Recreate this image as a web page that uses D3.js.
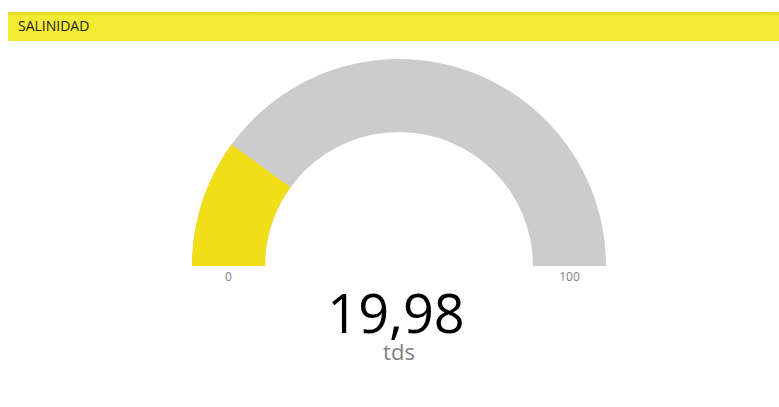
<!DOCTYPE html>
<html>
<head>
<meta charset="utf-8">
<script src="https://cdn.jsdelivr.net/npm/d3@7"></script>
<style>
  html, body { margin: 0; padding: 0; background: #fff; }
  svg { display: block; }
</style>
</head>
<body>
<svg id="chart" width="779" height="407"></svg>
<script>
// Gauge data
const title = "SALINIDAD";
const gaugeMin = [0];
const gaugeMax = [100];
const gaugeValue = [19.98];
const unitLabel = ["tds"];

const width = 779, height = 407;
const svg = d3.select("#chart");

// Header band
const defs = svg.append("defs");
const grad = defs.append("linearGradient").attr("id", "hdr").attr("x1", 0).attr("y1", 0).attr("x2", 0).attr("y2", 1);
grad.append("stop").attr("offset", "0%").attr("stop-color", "#e3d81e");
grad.append("stop").attr("offset", "15%").attr("stop-color", "#f3ea33");
grad.append("stop").attr("offset", "100%").attr("stop-color", "#f3ea33");

svg.append("rect")
  .attr("x", 8).attr("y", 12)
  .attr("width", width - 8).attr("height", 29)
  .attr("fill", "url(#hdr)");

svg.append("text")
  .attr("x", 18).attr("y", 31)
  .attr("font-family", "'Segoe UI', 'Open Sans', sans-serif")
  .attr("font-size", 14)
  .attr("fill", "#222")
  .text(title);

// Gauge geometry
const cx = 399, cy = 266;
const outerR = 207, innerR = 134;

const angle = d3.scaleLinear()
  .domain([gaugeMin[0], gaugeMax[0]])
  .range([-Math.PI / 2, Math.PI / 2]);

const arc = d3.arc().innerRadius(innerR).outerRadius(outerR);

const g = svg.append("g").attr("transform", `translate(${cx},${cy})`);

// Track
g.append("path")
  .attr("d", arc({ startAngle: angle(gaugeMin[0]), endAngle: angle(gaugeMax[0]) }))
  .attr("fill", "#cccccc");

// Value fill
g.append("path")
  .attr("d", arc({ startAngle: angle(gaugeMin[0]), endAngle: angle(gaugeValue[0]) }))
  .attr("fill", "#f2de16");

// Min / max labels
const midR = (innerR + outerR) / 2;
g.append("text")
  .attr("x", -midR).attr("y", 15)
  .attr("text-anchor", "middle")
  .attr("font-family", "'Segoe UI', 'Open Sans', sans-serif")
  .attr("font-size", 12)
  .attr("fill", "#808080")
  .text(d3.format("d")(gaugeMin[0]));

g.append("text")
  .attr("x", midR).attr("y", 15)
  .attr("text-anchor", "middle")
  .attr("font-family", "'Segoe UI', 'Open Sans', sans-serif")
  .attr("font-size", 12)
  .attr("fill", "#808080")
  .text(d3.format("d")(gaugeMax[0]));

// Central value
const fmt = v => d3.format(".2f")(v).replace(".", ",");
svg.append("text")
  .attr("x", cx - 3).attr("y", 333)
  .attr("text-anchor", "middle")
  .attr("font-family", "'Segoe UI', 'Open Sans', sans-serif")
  .attr("font-size", 54)
  .attr("fill", "#000")
  .text(fmt(gaugeValue[0]));

svg.append("text")
  .attr("x", cx).attr("y", 360)
  .attr("text-anchor", "middle")
  .attr("font-family", "'Segoe UI', 'Open Sans', sans-serif")
  .attr("font-size", 22)
  .attr("fill", "#808080")
  .text(unitLabel[0]);
</script>
</body>
</html>
